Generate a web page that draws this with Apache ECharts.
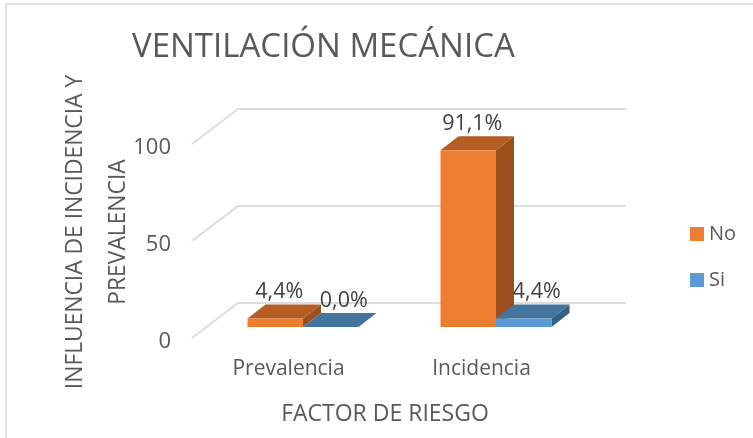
<!DOCTYPE html>
<html>
<head>
<meta charset="utf-8">
<style>html,body{margin:0;padding:0;background:#fff}#c{width:753px;height:438px}</style>
<script src="https://cdn.jsdelivr.net/npm/echarts@6/dist/echarts.min.js"></script>
</head>
<body>
<div id="c"></div>
<script>
const categories = ['Prevalencia', 'Incidencia'];
const noValues = [4.4, 91.1];
const siValues = [0.0, 4.4];
const yTicks = [0, 50, 100];

const FONT = '"Open Sans", sans-serif';
const TEXT = '#595959';
const WALL = '#dcdcdc';
// pseudo-3D projection constants (screen pixels)
const WALL_DX = 46, WALL_DY = -35;        // depth of the chart box
const WALL_EXTRA = 2;                     // back wall runs slightly past the front plane
const FRONT_DX = 14.5, FRONT_DY = -11;    // bar front face relative to the front plane
const BAR_DX = 18, BAR_DY = -14;          // depth of a bar
const BAR_W = 55.5;

function bar3d(sign, colors, labelDx) {
  return function (params, api) {
    const c = api.value(0), v = api.value(1);
    const p = api.coord([c, v]), p0 = api.coord([c, 0]);
    const cx = p[0] + FRONT_DX;
    const x0 = sign < 0 ? cx - BAR_W : cx, x1 = x0 + BAR_W;
    const yb = p0[1] + FRONT_DY, yt = p[1] + FRONT_DY;
    const poly = (pts, fill) => ({ type: 'polygon', shape: { points: pts }, style: { fill: fill } });
    return {
      type: 'group',
      children: [
        poly([[x1, yb], [x1 + BAR_DX, yb + BAR_DY], [x1 + BAR_DX, yt + BAR_DY], [x1, yt]], colors[2]),
        poly([[x0, yt], [x1, yt], [x1 + BAR_DX, yt + BAR_DY], [x0 + BAR_DX, yt + BAR_DY]], colors[1]),
        poly([[x0, yb], [x1, yb], [x1, yt], [x0, yt]], colors[0]),
        {
          type: 'text', z2: 10,
          style: {
            x: (x0 + x1) / 2 + labelDx, y: yt + BAR_DY - 12.5,
            text: v.toFixed(1).replace('.', ',') + '%',
            font: '21.5px ' + FONT, fill: '#404040', align: 'center', verticalAlign: 'middle'
          }
        }
      ]
    };
  };
}

function wallLine(params, api) {
  const v = api.value(0);
  const cs = params.coordSys;
  const y = api.coord([0, v])[1];
  const x = cs.x, xr = cs.x + cs.width;
  return {
    type: 'polyline',
    shape: { points: [[x, y], [x + WALL_DX, y + WALL_DY], [xr + WALL_DX + WALL_EXTRA, y + WALL_DY]] },
    style: { stroke: WALL, lineWidth: 2, fill: null }
  };
}

const chart = echarts.init(document.getElementById('c'), null, { renderer: 'canvas' });
chart.setOption({
  animation: false,
  backgroundColor: '#fff',
  title: {
    text: 'VENTILACIÓN MECÁNICA', left: 127, top: 26,
    textStyle: { fontFamily: FONT, fontWeight: 'normal', fontSize: 33, color: TEXT }
  },
  legend: {
    data: ['No', 'Si'], orient: 'vertical', left: 685, top: 219,
    itemWidth: 14, itemHeight: 14, itemGap: 26, icon: 'rect',
    textStyle: { fontFamily: FONT, fontSize: 20, color: TEXT }
  },
  grid: { left: 192, top: 144, width: 386, height: 194 },
  xAxis: {
    type: 'category', data: categories,
    axisLine: { show: false }, axisTick: { show: false },
    axisLabel: { fontFamily: FONT, fontSize: 21, color: TEXT, margin: 21 },
    name: 'FACTOR DE RIESGO', nameLocation: 'middle', nameGap: 65,
    nameTextStyle: { fontFamily: FONT, fontSize: 23, color: TEXT }
  },
  yAxis: {
    type: 'value', min: 0, max: 100, interval: 50,
    axisLine: { show: false }, axisTick: { show: false }, splitLine: { show: false },
    axisLabel: {
      color: TEXT, margin: 21, formatter: '{t|{value}}',
      rich: { t: { fontFamily: FONT, fontSize: 22, color: TEXT, padding: [7, 0, 0, 0] } }
    },
    name: 'INFLUENCIA DE INCIDENCIA Y\nPREVALENCIA', nameLocation: 'middle', nameGap: 52, nameMoveOverlap: false,
    nameTextStyle: { fontFamily: FONT, fontSize: 22.8, color: TEXT, lineHeight: 43, padding: [0, 0, 0, 18] }
  },
  series: [
    { type: 'custom', name: 'walls', silent: true, z: 1, data: yTicks.map(t => [t]), encode: { y: 0 }, renderItem: wallLine },
    {
      type: 'custom', name: 'No', z: 2, itemStyle: { color: '#ED7D31' },
      data: noValues.map((v, i) => [i, v]), encode: { x: 0, y: 1 },
      renderItem: bar3d(-1, ['#ED7D31', '#B55D22', '#9A4F1C'], 4)
    },
    {
      type: 'custom', name: 'Si', z: 3, itemStyle: { color: '#5B9BD5' },
      data: siValues.map((v, i) => [i, v]), encode: { x: 0, y: 1 },
      renderItem: bar3d(1, ['#5B9BD5', '#44759F', '#355F85'], 13)
    }
  ],
  graphic: [{
    type: 'rect', silent: true, z: 0,
    shape: { x: 6, y: 4, width: 760, height: 450 },
    style: { fill: null, stroke: '#d9d9d9', lineWidth: 1.5 }
  }]
});
</script>
</body>
</html>
